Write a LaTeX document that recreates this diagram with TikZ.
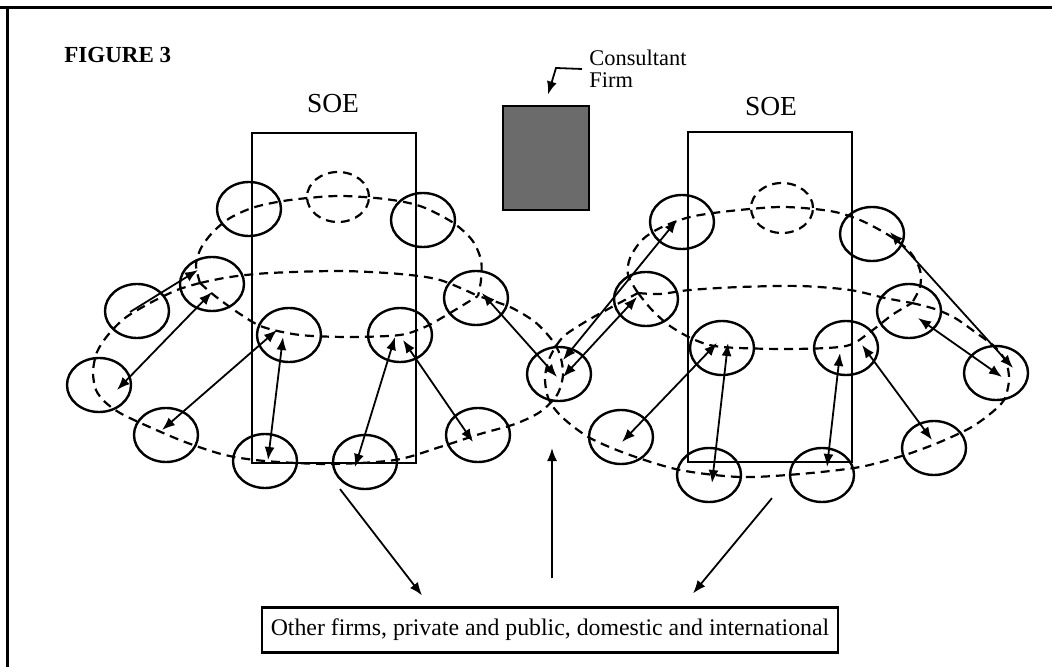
\documentclass[tikz,border=0pt]{standalone}
\usepackage{fontspec}
\setmainfont{Liberation Serif}
\usetikzlibrary{shapes.geometric,arrows.meta,calc}

\newlength{\du}
\setlength{\du}{0.5pt}

\tikzset{
  firm/.style={ellipse,draw,line width=1.2pt,minimum width=64\du,minimum height=54\du,inner sep=0pt},
  ghostfirm/.style={firm,line width=1.1pt,minimum width=62\du,minimum height=50\du,dash pattern=on 4.5pt off 3pt},
  ring/.style={line width=1.1pt,dash pattern=on 4.5pt off 3pt},
  soebox/.style={draw,line width=1.1pt,minimum width=164\du,minimum height=330\du,inner sep=0pt},
  soelabel/.style={font=\fontsize{13.75}{16}\selectfont},
  link/.style={line width=0.9pt,{Latex[length=6.5pt,width=5pt]}-{Latex[length=6.5pt,width=5pt]}},
  feed/.style={line width=0.9pt,-{Latex[length=6.5pt,width=5pt]}},
}

\begin{document}
\begin{tikzpicture}
\pgftransformxscale{1.000000}
\pgftransformyscale{-1.000000}
\definecolor{dialinecolor}{rgb}{0.000000, 0.000000, 0.000000}
\pgfsetstrokecolor{dialinecolor}
\definecolor{firmgray}{rgb}{0.420000, 0.420000, 0.420000}
\useasboundingbox (0\du,0\du) rectangle (1052\du,667\du);

% frame
\draw[line width=1.5pt] (0\du,8\du)--(1052\du,8\du);
\draw[line width=1.5pt] (7\du,8\du)--(7\du,667\du);
\node[anchor=west,inner sep=0pt,font=\fontsize{11.5}{13}\selectfont\bfseries] (title) at (64\du,55\du){FIGURE 3};

% left cone
\draw[ring] plot[smooth] coordinates {(200\du,283\du) (196\du,265\du) (201\du,248\du) (213\du,232\du) (230\du,218\du) (255\du,207\du) (290\du,200\du) (338\du,196\du) (385\du,199\du) (420\du,206\du) (452\du,222\du) (472\du,240\du) (481\du,260\du) (481\du,280\du) (478\du,296\du)};
\draw[ring] plot[smooth] coordinates {(200\du,283\du) (230\du,277\du) (270\du,273\du) (340\du,271\du) (400\du,274\du) (440\du,280\du) (478\du,296\du)};
\draw[ring] plot[smooth] coordinates {(200\du,283\du) (215\du,296\du) (240\du,314\du) (263\du,327\du) (300\du,335\du) (350\du,337\du) (400\du,335\du) (425\du,327\du) (445\du,316\du) (478\du,296\du)};
\draw[ring] plot[smooth] coordinates {(200\du,283\du) (177\du,290\du) (150\du,303\du) (125\du,318\du) (108\du,335\du) (97\du,352\du) (93\du,372\du) (96\du,390\du) (105\du,402\du) (120\du,413\du) (145\du,425\du) (185\du,442\du) (225\du,455\du) (265\du,461\du) (330\du,464\du) (395\du,460\du) (440\du,447\du) (480\du,434\du) (515\du,424\du) (540\du,412\du) (557\du,395\du) (563\du,375\du) (560\du,355\du) (552\du,340\du) (535\du,322\du) (510\du,307\du) (478\du,296\du)};

% right cone
\draw[ring] plot[smooth] coordinates {(638\du,293\du) (628\du,275\du) (630\du,258\du) (642\du,240\du) (660\du,228\du) (690\du,217\du) (730\du,211\du) (782\du,207\du) (830\du,211\du) (860\du,220\du) (890\du,236\du) (910\du,252\du) (920\du,270\du) (920\du,287\du) (912\du,303\du)};
\draw[ring] plot[smooth] coordinates {(638\du,293\du) (660\du,294\du) (690\du,290\du) (740\du,287\du) (800\du,286\du) (850\du,290\du) (885\du,298\du) (912\du,303\du)};
\draw[ring] plot[smooth] coordinates {(638\du,293\du) (652\du,310\du) (670\du,326\du) (695\du,340\du) (722\du,347\du) (790\du,349\du) (846\du,346\du) (870\du,332\du) (892\du,315\du) (912\du,303\du)};
\draw[ring] plot[smooth] coordinates {(912\du,303\du) (935\du,309\du) (955\du,318\du) (975\du,332\du) (995\du,347\du) (1006\du,362\du) (1009\du,380\du) (1004\du,400\du) (990\du,414\du) (970\du,428\du) (940\du,442\du) (905\du,455\du) (860\du,467\du) (800\du,474\du) (740\du,477\du) (680\du,470\du) (630\du,455\du) (590\du,438\du) (563\du,418\du) (549\du,400\du) (545\du,378\du) (550\du,357\du) (563\du,337\du) (585\du,322\du) (610\du,308\du) (638\du,293\du)};

% SOE boxes
\node[soebox] (lsoe) at (334\du,298\du){};
\node[soebox] (rsoe) at (770\du,297\du){};
\node[soelabel] (lsoelabel) at (333\du,104\du){SOE};
\node[soelabel] (rsoelabel) at (771\du,107\du){SOE};

% consultant
\node[draw,fill=firmgray,line width=0.6pt,minimum width=86\du,minimum height=104\du,inner sep=0pt] (cons) at (546\du,158\du){};
\node[anchor=west,align=left,inner sep=0pt,font=\fontsize{11.2}{11}\selectfont] (conslabel) at (589\du,69\du){Consultant\\Firm};
\coordinate (consbend) at (556\du,68\du);
\draw[feed] ($(conslabel.west)+(-7\du,0\du)$)--(consbend)--($(cons.north)+(2\du,-11\du)$);

% firms
\node[firm] (lf1) at (249\du,209\du){};
\node[ghostfirm] (lfd) at (338\du,197\du){};
\node[firm] (lf3) at (423\du,220\du){};
\node[firm] (lf4) at (212\du,284\du){};
\node[firm] (lf5) at (137\du,311\du){};
\node[firm] (lf6) at (476\du,298\du){};
\node[firm] (lf7) at (99\du,385\du){};
\node[firm] (lf8) at (166\du,435\du){};
\node[firm] (lf9) at (289\du,335\du){};
\node[firm] (lf10) at (400\du,335\du){};
\node[firm] (lf11) at (265\du,461\du){};
\node[firm] (lf12) at (365\du,462\du){};
\node[firm] (lf13) at (478\du,435\du){};
\node[firm] (mid) at (559\du,374\du){};
\node[firm] (rf1) at (682\du,222\du){};
\node[ghostfirm] (rfd) at (782\du,208\du){};
\node[firm] (rf3) at (872\du,234\du){};
\node[firm] (rf4) at (646\du,299\du){};
\node[firm] (rf5) at (909\du,311\du){};
\node[firm] (rf7) at (621\du,437\du){};
\node[firm] (rf8) at (722\du,348\du){};
\node[firm] (rf9) at (846\du,348\du){};
\node[firm] (rf10) at (996\du,373\du){};
\node[firm] (rf11) at (934\du,448\du){};
\node[firm] (rf12) at (709\du,475\du){};
\node[firm] (rf13) at (822\du,475\du){};

% links between firms
\draw[feed] ($(lf5)+(-7\du,1\du)$)--($(lf4)+(-14\du,-14\du)$);
\draw[link] ($(lf7)+(18\du,5\du)$)--($(lf4)+(0\du,8\du)$);
\draw[link] ($(lf8)+(-4\du,-5\du)$)--($(lf9)+(-12\du,-5\du)$);
\draw[link] ($(lf9)+(-6\du,2\du)$)--($(lf11)+(3\du,-1\du)$);
\draw[link] ($(lf10)+(-5\du,2\du)$)--($(lf12)+(-10\du,5\du)$);
\draw[link] ($(lf10)+(3\du,5\du)$)--($(lf13)+(-5\du,7\du)$);
\draw[link] ($(lf6)+(6\du,-5\du)$)--($(mid)+(-2\du,3\du)$);
\draw[link] ($(mid)+(4\du,-14\du)$)--($(rf1)+(-5\du,-2\du)$);
\draw[link] ($(mid)+(4\du,3\du)$)--($(rf4)+(-9\du,-2\du)$);
\draw[link] ($(rf7)+(1\du,5\du)$)--($(rf8)+(-5\du,-5\du)$);
\draw[link] ($(rf8)+(6\du,-5\du)$)--($(rf12)+(3\du,8\du)$);
\draw[link] ($(rf9)+(-6\du,5\du)$)--($(rf13)+(5\du,-8\du)$);
\draw[link] ($(rf9)+(16\du,-3\du)$)--($(rf11)+(-2\du,-8\du)$);
\draw[link] ($(rf5)+(9\du,7\du)$)--($(rf10)+(6\du,4\du)$);
\draw[link] ($(rf3)+(18\du,-2\du)$)--($(rf10)+(17\du,-5\du)$);

% other firms
\node[draw,line width=1.1pt,minimum width=576\du,minimum height=45\du,inner sep=0pt,font=\fontsize{11.9}{14}\selectfont] (other) at (550\du,630\du){Other firms, private and public, domestic and international};
\draw[feed] ($(lsoe.south)+(6\du,25\du)$)--($(other.north)+(-128\du,-11\du)$);
\draw[feed] ($(other.north)+(2\du,-28\du)$)--($(mid)+(-7\du,74\du)$);
\draw[feed] ($(rsoe.south)+(2\du,35\du)$)--($(other.north)+(143\du,-13\du)$);
\end{tikzpicture}
\end{document}
